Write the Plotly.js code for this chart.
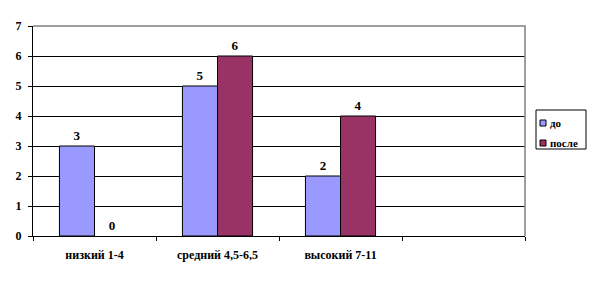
<!DOCTYPE html>
<html>
<head>
<meta charset="utf-8">
<script src="https://cdn.plot.ly/plotly-3.0.1.min.js"></script>
<style>html,body{margin:0;padding:0;background:#fff;}#chart{width:597px;height:282px;}</style>
</head>
<body>
<div id="chart"></div>
<script>
const categories = ["низкий 1-4", "средний 4,5-6,5", "высокий 7-11", " "];
const seriesNames = ["до", "после"];
const seriesColors = ["#9999FF", "#993366"];
const valuesDo = [3, 5, 2, null];
const valuesPosle = [0, 6, 4, null];
const yTicks = [0, 1, 2, 3, 4, 5, 6, 7];

const fontFam = "Liberation Serif";
const lblFont = {family: fontFam, size: 13, color: "#000", weight: "bold"};

function bar(name, vals, color) {
  return {
    type: "bar", name: name, x: categories, y: vals,
    marker: {color: color, line: {color: "#000", width: vals.map(v => v ? 1 : 0)}},
    text: vals.map(v => v === null ? "" : String(v)),
    textposition: "outside", cliponaxis: false,
    textfont: lblFont, hoverinfo: "skip", showlegend: false
  };
}

const data = [
  bar(seriesNames[0], valuesDo, seriesColors[0]),
  bar(seriesNames[1], valuesPosle, seriesColors[1])
];

// custom legend (box, swatches, labels) in paper coords
const L = 33, R = 525, T = 26, B = 236;
const px = v => (v - L) / (R - L);
const py = v => (B - v) / (B - T);
const shapes = [
  {type: "path", xref: "paper", yref: "paper", path: "M 0,1 L 1,1 L 1,0", layer: "above",
   line: {color: "#808080", width: 1.5}},
  {type: "rect", xref: "paper", yref: "paper", x0: px(536), x1: px(586), y0: py(110), y1: py(149),
   line: {color: "#000", width: 1}, fillcolor: "#fff"}
];
const annotations = [];
seriesNames.forEach((n, i) => {
  const cy = 123 + i * 20;
  shapes.push({type: "rect", xref: "paper", yref: "paper",
    x0: px(540), x1: px(546), y0: py(cy + 3), y1: py(cy - 3),
    line: {color: "#000", width: 1}, fillcolor: seriesColors[i]});
  annotations.push({xref: "paper", yref: "paper", x: px(548), y: py(cy), xanchor: "left", yanchor: "middle",
    text: n, showarrow: false, font: {family: fontFam, size: 11, color: "#000", weight: "bold"}});
});

const layout = {
  width: 597, height: 282,
  margin: {l: L, r: 597 - R, t: T, b: 282 - B, autoexpand: false},
  paper_bgcolor: "#fff", plot_bgcolor: "#fff",
  barmode: "group", bargap: 0.43, bargroupgap: 0,
  showlegend: false,
  xaxis: {
    type: "category", categoryorder: "array", categoryarray: categories,
    range: [-0.5, 3.5], fixedrange: true,
    showline: true, linecolor: "#000", linewidth: 1,
    ticks: "outside", ticklen: 4, tickcolor: "#000", tickson: "boundaries",
    showgrid: false, zeroline: false,
    ticklabelstandoff: 8,
    tickfont: {family: fontFam, size: 12, color: "#000", weight: "bold"}
  },
  yaxis: {
    range: [0, 7], tickvals: yTicks, ticktext: yTicks.map(String),
    showline: true, linecolor: "#000", linewidth: 1,
    ticks: "outside", ticklen: 4, tickcolor: "#000",
    showgrid: true, gridcolor: "#000", gridwidth: 1, zeroline: false,
    ticklabelstandoff: 4,
    tickfont: {family: fontFam, size: 12, color: "#000", weight: "bold"}
  },
  shapes: shapes,
  annotations: annotations
};

Plotly.newPlot("chart", data, layout, {displayModeBar: false, staticPlot: true});
</script>
</body>
</html>
